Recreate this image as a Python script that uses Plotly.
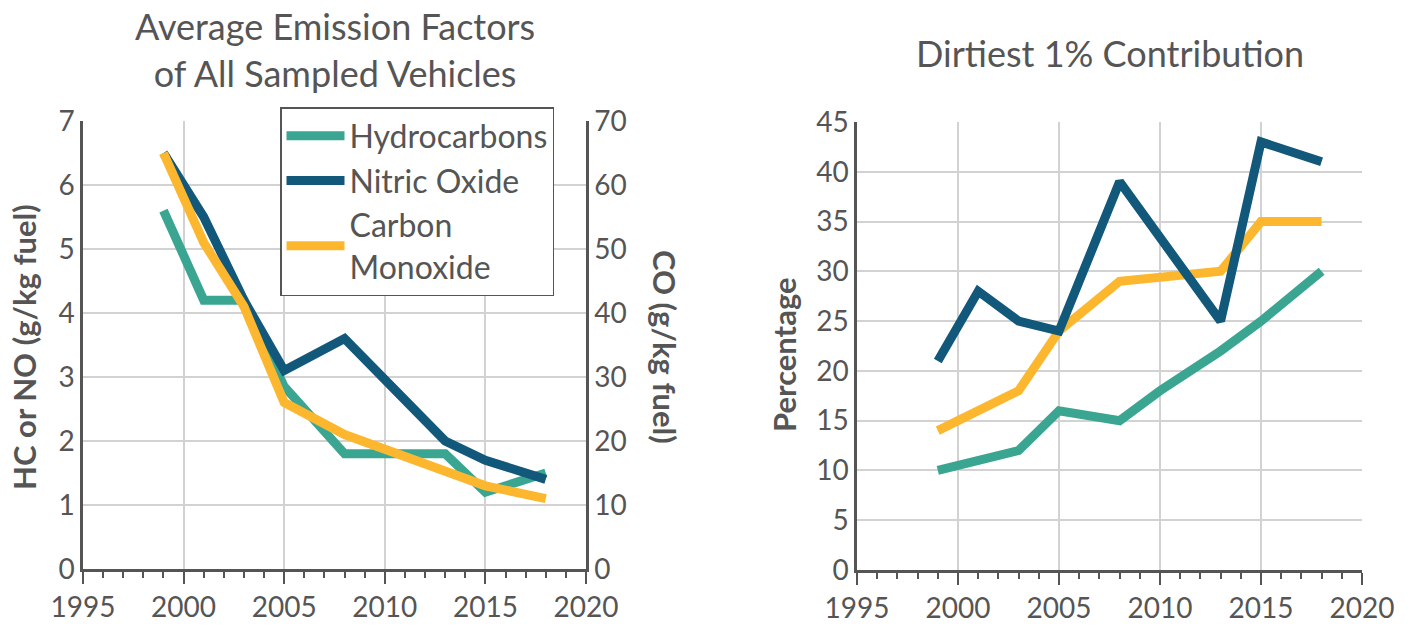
import plotly.graph_objects as go

# left chart: average emission factors
years_l = [1999, 2001, 2003, 2005, 2008, 2013, 2015, 2018]
hc_l = [5.6, 4.2, 4.2, 2.85, 1.8, 1.8, 1.2, 1.5]
no_l = [6.5, 5.5, 4.2, 3.1, 3.6, 2.0, 1.7, 1.4]
co_l = [65, 51, 41, 26, 21, 15.5, 13, 11]

# right chart: dirtiest 1% contribution
years_hc = [1999, 2003, 2005, 2008, 2010, 2013, 2015, 2018]
hc_r = [10, 12, 16, 15, 18, 22, 25, 30]
years_no = [1999, 2001, 2003, 2005, 2008, 2013, 2015, 2018]
no_r = [21, 28, 25, 24, 39, 25, 43, 41]
years_co = [1999, 2003, 2005, 2008, 2013, 2015, 2018]
co_r = [14, 18, 24, 29, 30, 35, 35]

TEAL = "#3aa692"
NAVY = "#11587a"
GOLD = "#fdb72e"
TXT = "#555555"
GRID = "#d2d2d2"
FONT = "Lato"
W = 9

# page body has an 8px margin, so the figure is a bit smaller and shifted
FW, FH, OFF = 1402, 618, 8


def px(x):
    return (x - OFF) / FW


def py(y):
    return 1 - (y - OFF) / FH


fig = go.Figure()
fig.add_trace(go.Scatter(x=years_l, y=hc_l, mode="lines", name="Hydrocarbons",
                         line=dict(color=TEAL, width=W), xaxis="x", yaxis="y"))
fig.add_trace(go.Scatter(x=years_l, y=no_l, mode="lines", name="Nitric Oxide",
                         line=dict(color=NAVY, width=W), xaxis="x", yaxis="y"))
fig.add_trace(go.Scatter(x=years_l, y=co_l, mode="lines", name="Carbon<br>Monoxide",
                         line=dict(color=GOLD, width=W), xaxis="x", yaxis="y2"))

fig.add_trace(go.Scatter(x=years_hc, y=hc_r, mode="lines", showlegend=False,
                         line=dict(color=TEAL, width=W), xaxis="x2", yaxis="y3"))
fig.add_trace(go.Scatter(x=years_co, y=co_r, mode="lines", showlegend=False,
                         line=dict(color=GOLD, width=W), xaxis="x2", yaxis="y3"))
fig.add_trace(go.Scatter(x=years_no, y=no_r, mode="lines", showlegend=False,
                         line=dict(color=NAVY, width=W), xaxis="x2", yaxis="y3"))

xcommon = dict(range=[1995, 2020], dtick=5, tick0=1995, showgrid=True, gridcolor=GRID,
               gridwidth=2, showline=True, linecolor=TXT, linewidth=2.5,
               ticks="outside", ticklen=12, tickwidth=2, tickcolor=TXT,
               minor=dict(ticks="outside", dtick=1, ticklen=6, tickwidth=2,
                          tickcolor=TXT, showgrid=False),
               tickfont=dict(size=28, color=TXT, family=FONT), zeroline=False,
               automargin=False)
ycommon = dict(showgrid=True, gridcolor=GRID, gridwidth=2, showline=True,
               linecolor=TXT, linewidth=2.5, ticks="", zeroline=False,
               tickfont=dict(size=28, color=TXT, family=FONT), automargin=False)

fig.update_layout(
    width=FW, height=FH,
    margin=dict(l=0, r=0, t=0, b=0),
    paper_bgcolor="white", plot_bgcolor="white",
    font=dict(family=FONT, color=TXT),
    xaxis=dict(domain=[px(83), px(586)], anchor="y", **xcommon),
    yaxis=dict(domain=[py(569), py(121)], range=[0, 7], dtick=1, anchor="x", **ycommon),
    yaxis2=dict(range=[0, 70], dtick=10, overlaying="y", side="right", anchor="x",
                showgrid=False, showline=True, linecolor=TXT, linewidth=2.5, zeroline=False,
                ticks="", automargin=False,
                tickfont=dict(size=28, color=TXT, family=FONT)),
    xaxis2=dict(domain=[px(857), px(1362)], anchor="y3", **xcommon),
    yaxis3=dict(domain=[py(570), py(122)], range=[0, 45], dtick=5, anchor="x2", **ycommon),
    legend=dict(x=px(280), y=py(107), xanchor="left", yanchor="top",
                bgcolor="white", bordercolor=TXT, borderwidth=1.5, itemwidth=58,
                font=dict(size=32, color=TXT, family=FONT), tracegroupgap=0),
    annotations=[
        dict(text="Average Emission Factors<br>of All Sampled Vehicles", x=px(335), y=py(50),
             xref="paper", yref="paper", xanchor="center", yanchor="middle", showarrow=False,
             font=dict(size=36, color=TXT)),
        dict(text="Dirtiest 1% Contribution", x=px(1110), y=py(53),
             xref="paper", yref="paper", xanchor="center", yanchor="middle", showarrow=False,
             font=dict(size=36, color=TXT)),
        dict(text="<b>HC or NO (g/kg fuel)</b>", x=px(24), y=py(347), textangle=-90,
             xref="paper", yref="paper", xanchor="center", yanchor="middle", showarrow=False,
             font=dict(size=31, color=TXT)),
        dict(text="<b>CO (g/kg fuel)</b>", x=px(665), y=py(347), textangle=90,
             xref="paper", yref="paper", xanchor="center", yanchor="middle", showarrow=False,
             font=dict(size=31, color=TXT)),
        dict(text="<b>Percentage</b>", x=px(784), y=py(355), textangle=-90,
             xref="paper", yref="paper", xanchor="center", yanchor="middle", showarrow=False,
             font=dict(size=31, color=TXT)),
    ],
)

fig.write_html("out.html")
